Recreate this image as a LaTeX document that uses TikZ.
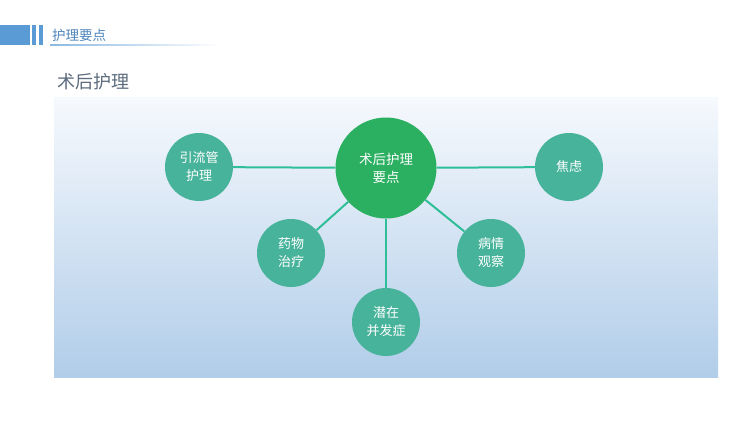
\documentclass[tikz,border=0pt]{standalone}
\usepackage{fontspec}
\setmainfont{Noto Sans CJK SC}
\definecolor{hdblue}{HTML}{5B9BD5}
\definecolor{hdtext}{HTML}{4F86BD}
\definecolor{ttlgray}{HTML}{5C6B7E}
\definecolor{bgtop}{HTML}{F6F9FD}
\definecolor{bgbot}{HTML}{B1CDE9}
\definecolor{hubgreen}{HTML}{2BAF60}
\definecolor{leafgreen}{HTML}{48B39B}
\definecolor{linkgreen}{HTML}{2EBE98}
\tikzset{
  hub/.style={circle,fill=hubgreen,minimum size=101pt,inner sep=0pt,align=center,text=white,font=\fontsize{13.5}{18}\selectfont},
  leaf/.style={circle,fill=leafgreen,minimum size=68pt,inner sep=0pt,align=center,text=white,font=\fontsize{13}{18}\selectfont},
  link/.style={draw=linkgreen,line width=2pt}
}
\begin{document}
\begin{tikzpicture}[x=1pt,y=-1pt]
\useasboundingbox (0,0) rectangle (750,421);
\fill[white] (0,0) rectangle (750,421);
% header
\fill[hdblue] (0,25) rectangle (30,45);
\fill[hdblue] (32,25) rectangle (35.5,45);
\fill[hdblue] (39,25) rectangle (42.5,45);
\shade[left color=hdblue!70,right color=white] (50,44.2) rectangle (222,45.4);
\node[anchor=west,text=hdtext,font=\fontsize{13.5}{15}\selectfont,inner sep=0pt] (hdr) at (52,35) {护理要点};
\node[anchor=west,text=ttlgray,font=\fontsize{18}{20}\selectfont,inner sep=0pt] (ttl) at (57,82) {术后护理};
% panel
\shade[top color=bgtop,bottom color=bgbot] (54,97) rectangle (718,377);
% nodes
\node[hub] (core) at (386,168) {术后护理\\要点};
\node[leaf] (drain) at (199,167) {引流管\\护理};
\node[leaf] (anx) at (569,167) {焦虑};
\node[leaf] (drug) at (291,253) {药物\\治疗};
\node[leaf] (obs) at (491,253) {病情\\观察};
\node[leaf] (comp) at (386,322) {潜在\\并发症};
% links
\draw[link] (core) -- (drain);
\draw[link] (core) -- (anx);
\draw[link] (core) -- (drug);
\draw[link] (core) -- (obs);
\draw[link] (core) -- (comp);
\end{tikzpicture}
\end{document}
